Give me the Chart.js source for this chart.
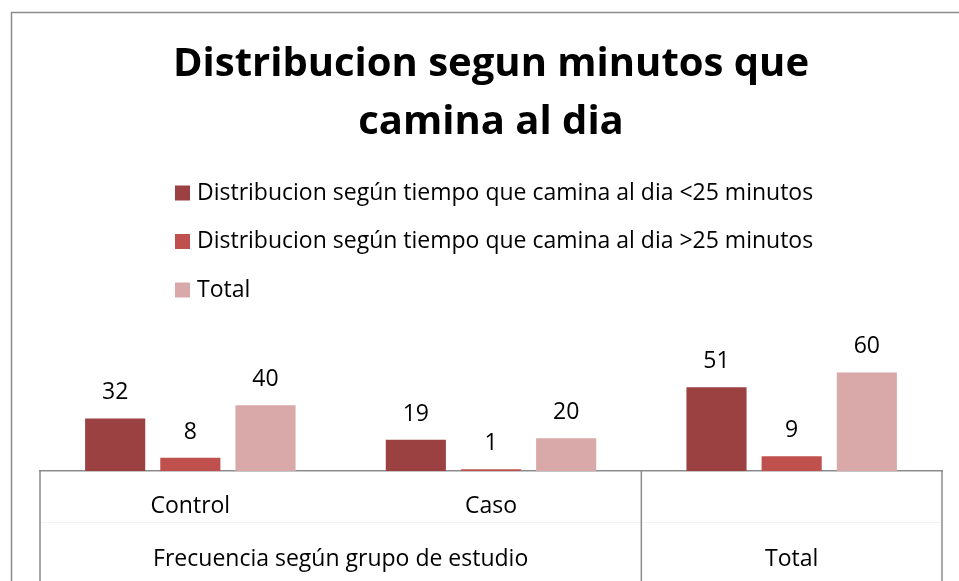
<!DOCTYPE html>
<html>
<head>
<meta charset="utf-8">
<title>Distribucion segun minutos que camina al dia</title>
<script src="https://cdn.jsdelivr.net/npm/chart.js@4.4.1/dist/chart.umd.min.js"></script>
<style>
  html, body { margin: 0; padding: 0; background: #fff; overflow: hidden; }
  canvas { display: block; }
</style>
</head>
<body>
<canvas id="walkChart" width="959" height="581"></canvas>
<script>
const titleLines = ['Distribucion segun minutos que', 'camina al dia'];
const categories = ['Control', 'Caso', ''];
const groupLabels = ['Frecuencia según grupo de estudio', 'Total'];
const groupSizes = [2, 1];
const seriesNames = [
    'Distribucion según tiempo que camina al dia <25 minutos',
    'Distribucion según tiempo que camina al dia >25 minutos',
    'Total'
];
const under25 = [32, 19, 51];
const over25 = [8, 1, 9];
const totals = [40, 20, 60];
const seriesColors = ['#9c4141', '#c0504d', '#d9a9a9'];
const yMax = 70;

const FONT = '"Open Sans", Lato, sans-serif';
const AXIS_GREY = '#8c8c8c';

// outer chart frame (left + top edges, the rest is cropped)
const frameLines = {
    id: 'frameLines',
    beforeDraw(chart) {
        const ctx = chart.ctx;
        ctx.save();
        ctx.strokeStyle = AXIS_GREY;
        ctx.lineWidth = 1.5;
        ctx.beginPath();
        ctx.moveTo(11.5, chart.height);
        ctx.lineTo(11.5, 12.5);
        ctx.lineTo(chart.width, 12.5);
        ctx.stroke();
        ctx.restore();
    }
};

// stacked legend, one series per row
const sideLegend = {
    id: 'sideLegend',
    afterDraw(chart, args, opts) {
        const ctx = chart.ctx;
        ctx.save();
        ctx.font = `23px ${FONT}`;
        ctx.textBaseline = 'middle';
        chart.data.datasets.forEach((ds, i) => {
            const y = opts.top + i * opts.rowGap;
            ctx.fillStyle = ds.backgroundColor;
            ctx.fillRect(opts.left, y - 7.5, 15, 15);
            ctx.fillStyle = '#000';
            ctx.fillText(ds.label, opts.left + 22, y);
        });
        ctx.restore();
    }
};

// value above each bar
const valueLabels = {
    id: 'valueLabels',
    afterDatasetsDraw(chart) {
        const ctx = chart.ctx;
        ctx.save();
        ctx.font = `23px ${FONT}`;
        ctx.fillStyle = '#000';
        ctx.textAlign = 'center';
        ctx.textBaseline = 'alphabetic';
        chart.data.datasets.forEach((ds, i) => {
            chart.getDatasetMeta(i).data.forEach((bar, j) => {
                ctx.fillText(ds.data[j], bar.x, bar.y - 19);
            });
        });
        ctx.restore();
    }
};

// second level of the category axis + group separators
const groupAxis = {
    id: 'groupAxis',
    afterDraw(chart) {
        const x = chart.scales.x;
        const ctx = chart.ctx;
        const step = (x.right - x.left) / categories.length;
        ctx.save();
        ctx.strokeStyle = '#f3f3f3';
        ctx.lineWidth = 1;
        ctx.beginPath();
        ctx.moveTo(x.left, x.top + 51.5);
        ctx.lineTo(x.right, x.top + 51.5);
        ctx.stroke();

        ctx.font = `23px ${FONT}`;
        ctx.fillStyle = '#000';
        ctx.textAlign = 'center';
        ctx.textBaseline = 'middle';
        const edges = [x.left];
        let start = 0;
        groupLabels.forEach((label, g) => {
            const end = start + groupSizes[g];
            const px0 = x.left + start * step;
            const px1 = x.left + end * step;
            edges.push(px1);
            ctx.fillText(label, (px0 + px1) / 2, x.top + 88);
            start = end;
        });

        ctx.strokeStyle = AXIS_GREY;
        ctx.lineWidth = 1.5;
        ctx.beginPath();
        edges.forEach(px => {
            ctx.moveTo(px, x.top);
            ctx.lineTo(px, chart.height);
        });
        ctx.stroke();
        ctx.restore();
    }
};

const ctx = document.getElementById('walkChart').getContext('2d');
new Chart(ctx, {
    type: 'bar',
    data: {
        labels: categories,
        datasets: [
            { label: seriesNames[0], data: under25, backgroundColor: seriesColors[0] },
            { label: seriesNames[1], data: over25, backgroundColor: seriesColors[1] },
            { label: seriesNames[2], data: totals, backgroundColor: seriesColors[2] }
        ]
    },
    options: {
        responsive: false,
        animation: false,
        devicePixelRatio: 1,
        layout: { padding: { left: 40, right: 17, top: 0, bottom: 0 } },
        datasets: {
            bar: { categoryPercentage: 0.75, barPercentage: 0.8 }
        },
        plugins: {
            legend: { display: false },
            tooltip: { enabled: false },
            title: {
                display: true,
                text: titleLines,
                color: '#000',
                font: { family: FONT, size: 40, weight: 'bold', lineHeight: '58px' },
                padding: { top: 36, bottom: 204 }
            },
            sideLegend: { left: 175, top: 193, rowGap: 48.5 }
        },
        scales: {
            x: {
                grid: { display: false, drawTicks: false },
                border: { display: true, color: AXIS_GREY, width: 1.5 },
                ticks: { color: '#000', font: { family: FONT, size: 23 }, padding: 22, maxRotation: 0 },
                afterFit(scale) { scale.height = 110; }
            },
            y: {
                display: false,
                min: 0,
                max: yMax
            }
        }
    },
    plugins: [frameLines, sideLegend, valueLabels, groupAxis]
});
</script>
</body>
</html>
